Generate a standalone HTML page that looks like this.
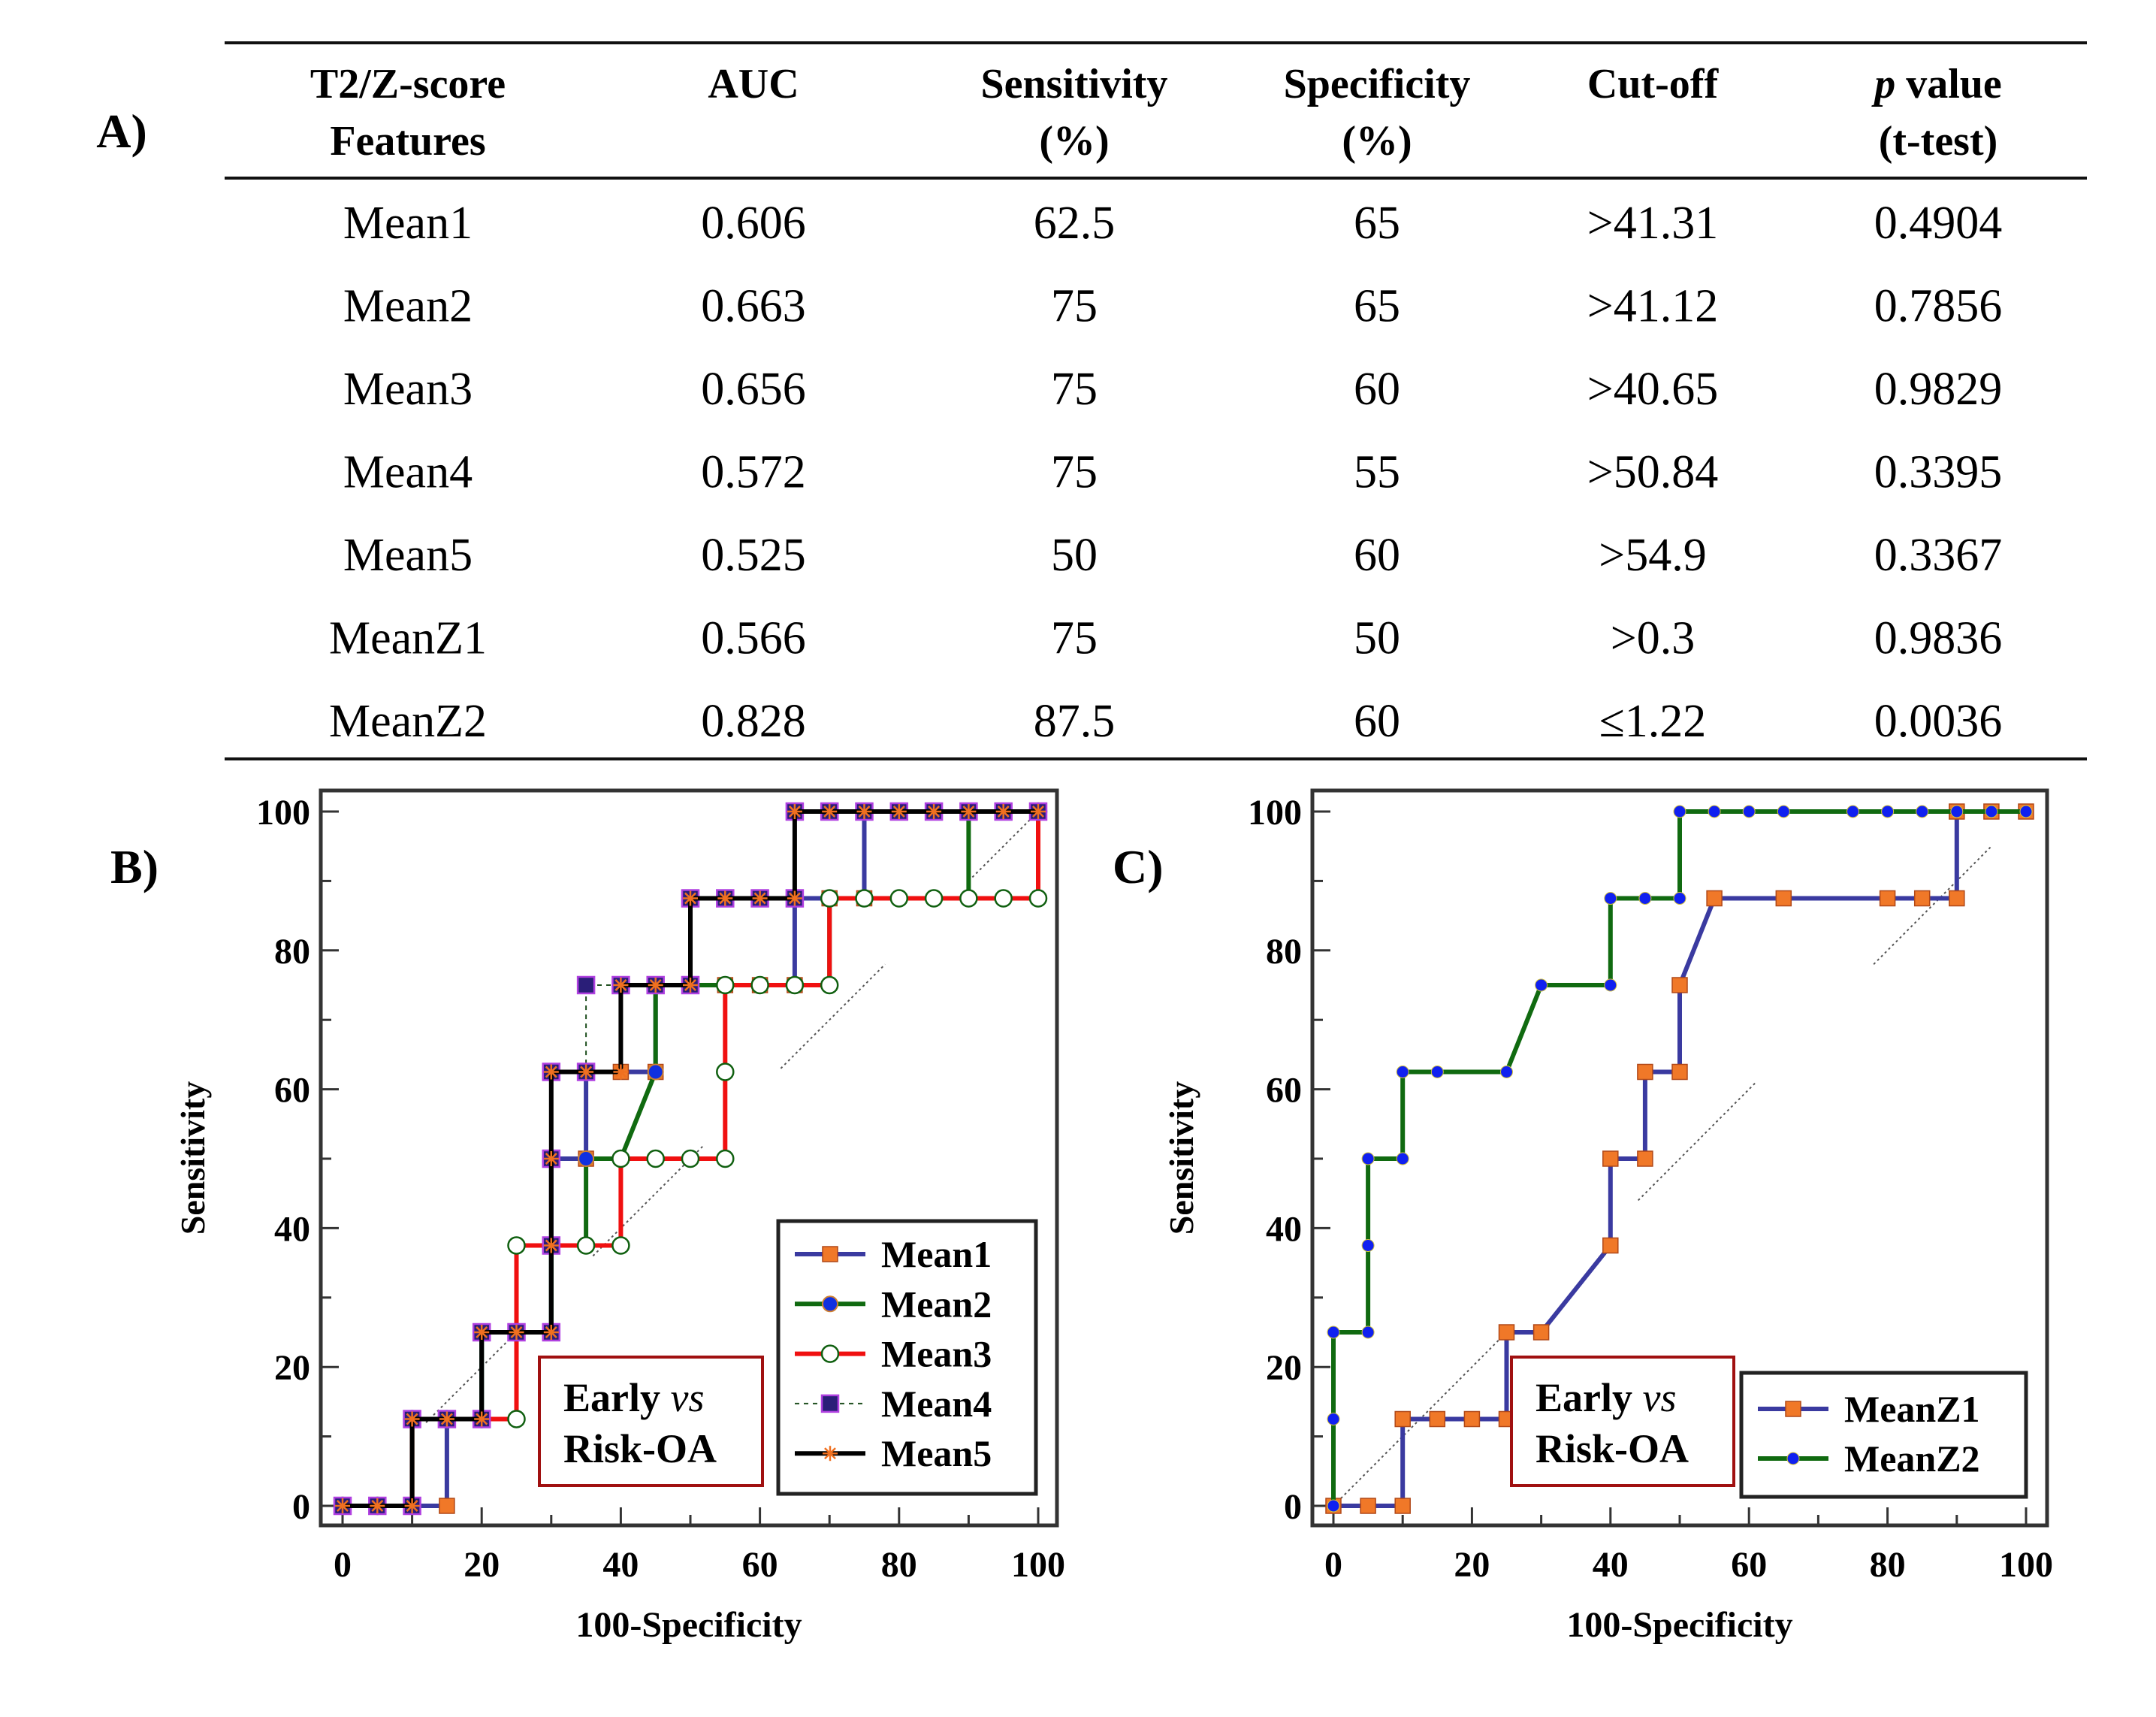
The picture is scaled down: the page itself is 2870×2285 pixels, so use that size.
<!DOCTYPE html>
<html><head><meta charset="utf-8"><style>
html,body{margin:0;padding:0;background:#fff;}
svg{display:block;font-family:"Liberation Serif",serif;}
</style></head><body>
<svg id="fig" width="2870" height="2285" viewBox="0 0 2870 2285" xmlns="http://www.w3.org/2000/svg">
<g>
<text x="162" y="196" font-size="64" font-weight="bold" text-anchor="middle">A)</text>
<line x1="299" y1="57" x2="2778" y2="57" stroke="#111" stroke-width="4"/>
<line x1="299" y1="237" x2="2778" y2="237" stroke="#111" stroke-width="4"/>
<line x1="299" y1="1010" x2="2778" y2="1010" stroke="#111" stroke-width="4"/>
<g font-size="56" font-weight="bold" text-anchor="middle">
<text x="543" y="130">T2/Z-score</text>
<text x="543" y="206">Features</text>
<text x="1003" y="130">AUC</text>
<text x="1430" y="130">Sensitivity</text>
<text x="1430" y="206">(%)</text>
<text x="1833" y="130">Specificity</text>
<text x="1833" y="206">(%)</text>
<text x="2200" y="130">Cut-off</text>
<text x="2580" y="130"><tspan font-style="italic">p</tspan> value</text>
<text x="2580" y="206">(t-test)</text>
</g>
<g id="tbody" font-size="62" text-anchor="middle"></g>
</g>
<g id="chartB"></g>
<g id="chartC"></g>
</svg>
<script>
const tableRows = [
 ["Mean1","0.606","62.5","65",">41.31","0.4904"],
 ["Mean2","0.663","75","65",">41.12","0.7856"],
 ["Mean3","0.656","75","60",">40.65","0.9829"],
 ["Mean4","0.572","75","55",">50.84","0.3395"],
 ["Mean5","0.525","50","60",">54.9","0.3367"],
 ["MeanZ1","0.566","75","50",">0.3","0.9836"],
 ["MeanZ2","0.828","87.5","60","\u22641.22","0.0036"]
];
const xTicks = [0,20,40,60,80,100];
const yTicks = [0,20,40,60,80,100];
// Chart B series
const mean1X = [0,5,10,15,15,20,20,25,30,30,30,35,35,40,45,45,50,55,60,65,65,70,75,75,80,85,90,95,100];
const mean1Y = [0,0,0,0,12.5,12.5,25,25,25,37.5,50,50,62.5,62.5,62.5,75,75,75,75,75,87.5,87.5,87.5,100,100,100,100,100,100];
const mean2X = [0,5,10,10,15,20,20,25,30,30,35,35,40,45,45,50,55,60,65,70,70,75,80,85,90,90,95,100];
const mean2Y = [0,0,0,12.5,12.5,12.5,25,25,25,37.5,37.5,50,50,62.5,75,75,75,75,75,75,87.5,87.5,87.5,87.5,87.5,100,100,100];
const mean3X = [0,5,10,10,15,20,25,25,25,30,35,40,40,45,50,55,55,55,60,65,70,70,75,80,85,90,95,100,100];
const mean3Y = [0,0,0,12.5,12.5,12.5,12.5,25,37.5,37.5,37.5,37.5,50,50,50,50,62.5,75,75,75,75,87.5,87.5,87.5,87.5,87.5,87.5,87.5,100];
const mean4X = [0,5,10,10,15,20,20,25,30,30,30,30,35,35,40,45,50,50,55,60,65,65,70,75,80,85,90,95,100];
const mean4Y = [0,0,0,12.5,12.5,12.5,25,25,25,37.5,50,62.5,62.5,75,75,75,75,87.5,87.5,87.5,87.5,100,100,100,100,100,100,100,100];
const mean5X = [0,5,10,10,15,20,20,25,30,30,30,30,35,40,40,45,50,50,55,60,65,65,70,75,80,85,90,95,100];
const mean5Y = [0,0,0,12.5,12.5,12.5,25,25,25,37.5,50,62.5,62.5,62.5,75,75,75,87.5,87.5,87.5,87.5,100,100,100,100,100,100,100,100];
// Chart C series
const meanZ1X = [0,5,10,10,15,20,25,25,30,40,40,45,45,50,50,55,65,80,85,90,90,95,100];
const meanZ1Y = [0,0,0,12.5,12.5,12.5,12.5,25,25,37.5,50,50,62.5,62.5,75,87.5,87.5,87.5,87.5,87.5,100,100,100];
const meanZ2X = [0,0,0,5,5,5,10,10,15,25,30,40,40,45,50,50,55,60,65,75,80,85,90,95,100];
const meanZ2Y = [0,12.5,25,25,37.5,50,50,62.5,62.5,62.5,75,75,87.5,87.5,87.5,100,100,100,100,100,100,100,100,100,100];
const diagB = [[12,25],[36,52],[63,78],[90,100]];
const diagC = [[0,26],[44,61],[78,95]];

const NS="http://www.w3.org/2000/svg";
function mk(tag,attrs,parent){const e=document.createElementNS(NS,tag);for(const k in attrs)e.setAttribute(k,attrs[k]);parent.appendChild(e);return e;}

const tb=document.getElementById('tbody');
const colX=[543,1003,1430,1833,2200,2580];
tableRows.forEach((r,i)=>{r.forEach((v,j)=>{
  const t=mk('text',{x:colX[j],y:317+i*110.5},tb);
  
  
  t.textContent=v;});});

function chart(g,cfg){
  const sx=v=>cfg.x0+(cfg.x1-cfg.x0)*v/100;
  const sy=v=>cfg.y0+(cfg.y1-cfg.y0)*v/100;
  const lab=mk('text',{x:cfg.labX,y:1175,'font-size':64,'font-weight':'bold'},g);
  
  
  lab.textContent=cfg.label;
  cfg.diag.forEach(d=>{const l=mk('line',{x1:sx(d[0]),y1:sy(d[0]),x2:sx(d[1]),y2:sy(d[1]),stroke:'#555','stroke-width':2,'stroke-dasharray':'3,4'},g);
    
    });
  for(let v=0;v<=100;v+=10){
    const major=v%20===0, len=major?24:14;
    const tx=mk('line',{x1:sx(v),y1:cfg.fb,x2:sx(v),y2:cfg.fb-len,stroke:'#333','stroke-width':3},g);
    
    
    const ty=mk('line',{x1:cfg.fl,y1:sy(v),x2:cfg.fl+len,y2:sy(v),stroke:'#333','stroke-width':3},g);
    
    
  }
  xTicks.forEach(v=>{const t=mk('text',{x:sx(v),y:cfg.fb+68,'font-size':48,'font-weight':'bold','text-anchor':'middle'},g);
    
    
    t.textContent=v;});
  yTicks.forEach(v=>{const t=mk('text',{x:cfg.fl-14,y:sy(v)+17,'font-size':48,'font-weight':'bold','text-anchor':'end'},g);
    
    
    t.textContent=v;});
  const xt=mk('text',{x:(cfg.fl+cfg.fr)/2,y:2178,'font-size':48,'font-weight':'bold','text-anchor':'middle'},g);
  
  
  xt.textContent='100-Specificity';
  const yt=mk('text',{x:0,y:0,'font-size':46,'font-weight':'bold','text-anchor':'middle',transform:`translate(${cfg.ytX},${(cfg.ft+cfg.fb)/2}) rotate(-90)`},g);
  
  
  yt.textContent='Sensitivity';
  cfg.series.forEach(s=>{
    const pts=s.x.map((v,i)=>sx(v)+','+sy(s.y[i])).join(' ');
    const pl=mk('polyline',{points:pts,fill:'none',stroke:s.color,'stroke-width':s.w,'stroke-dasharray':s.dash||'none'},g);
    
    
    s.x.forEach((v,i)=>{const m=drawMarker(g,s.marker,sx(v),sy(s.y[i]));
      
      });
  });
  const fr=mk('rect',{x:cfg.fl,y:cfg.ft,width:cfg.fr-cfg.fl,height:cfg.fb-cfg.ft,fill:'none',stroke:'#333','stroke-width':5},g);
  
  
  const eb=mk('rect',{x:cfg.eb[0],y:1806,width:cfg.eb[1],height:171,fill:'#fff',stroke:'#a01010','stroke-width':4},g);
  
  
  const e1=mk('text',{x:cfg.eb[0]+32,y:1878,'font-size':54,'font-weight':'bold'},g);
  
  
  e1.innerHTML='Early <tspan font-style="italic" font-weight="normal">vs</tspan>';
  const e2=mk('text',{x:cfg.eb[0]+32,y:1946,'font-size':54,'font-weight':'bold'},g);
  
  
  e2.textContent='Risk-OA';
  const L=cfg.legend;
  const lb=mk('rect',{x:L.x,y:L.y,width:L.w,height:L.h,fill:'#fff',stroke:'#222','stroke-width':5},g);
  
  
  cfg.series.forEach((s,i)=>{
    const yy=L.ey0+i*L.dy;
    const ll=mk('line',{x1:L.x+22,y1:yy,x2:L.x+116,y2:yy,stroke:s.color,'stroke-width':s.w,'stroke-dasharray':s.dash||'none'},g);
    
    
    const lm=drawMarker(g,s.marker,L.x+69,yy);
    
    
    const lt=mk('text',{x:L.x+137,y:yy+17,'font-size':50,'font-weight':'bold'},g);
    
    
    lt.textContent=s.name;
  });
}
function drawMarker(g,type,x,y){
  const grp=mk('g',{},g);
  if(type==='osq') mk('rect',{x:x-10,y:y-10,width:20,height:20,fill:'#f07828',stroke:'#b04818','stroke-width':1.5},grp);
  else if(type==='bcirc') mk('circle',{cx:x,cy:y,r:10,fill:'#1030e0',stroke:'#d08030','stroke-width':2},grp);
  else if(type==='wcirc') mk('circle',{cx:x,cy:y,r:11,fill:'#fff',stroke:'#106010','stroke-width':2.5},grp);
  else if(type==='nsq') mk('rect',{x:x-11,y:y-11,width:22,height:22,fill:'#2a1e78',stroke:'#b040e0','stroke-width':2.5},grp);
  else if(type==='ast'){for(let a=0;a<180;a+=45){const r=a*Math.PI/180;mk('line',{x1:x-10*Math.cos(r),y1:y-10*Math.sin(r),x2:x+10*Math.cos(r),y2:y+10*Math.sin(r),stroke:'#f07020','stroke-width':2.5},grp);}}
  else if(type==='dot') mk('circle',{cx:x,cy:y,r:8,fill:'#1020f0',stroke:'#d0c040','stroke-width':1},grp);
  return grp;
}
chart(document.getElementById('chartB'),{
  label:'B)',labX:147,x0:456,x1:1382,y0:2004,y1:1080,fl:427,fr:1407,ft:1052,fb:2030,ytX:272,
  diag:diagB, eb:[718,297],
  legend:{x:1036,y:1625,w:343,h:363,ey0:1669,dy:66.3},
  series:[
    {name:'Mean1',x:mean1X,y:mean1Y,color:'#3a3aa0',w:6,marker:'osq'},
    {name:'Mean2',x:mean2X,y:mean2Y,color:'#106a10',w:6,marker:'bcirc'},
    {name:'Mean3',x:mean3X,y:mean3Y,color:'#f01010',w:6,marker:'wcirc'},
    {name:'Mean4',x:mean4X,y:mean4Y,color:'#205020',w:2,dash:'6,6',marker:'nsq'},
    {name:'Mean5',x:mean5X,y:mean5Y,color:'#000',w:6,marker:'ast'}
  ]});
chart(document.getElementById('chartC'),{
  label:'C)',labX:1481,x0:1775,x1:2697,y0:2004,y1:1080,fl:1747,fr:2725,ft:1052,fb:2030,ytX:1588,
  diag:diagC, eb:[2012,296],
  legend:{x:2318,y:1827,w:379,h:165,ey0:1875,dy:66},
  series:[
    {name:'MeanZ1',x:meanZ1X,y:meanZ1Y,color:'#3a3aa0',w:6,marker:'osq'},
    {name:'MeanZ2',x:meanZ2X,y:meanZ2Y,color:'#106a10',w:6,marker:'dot'}
  ]});
</script>
</body></html>
